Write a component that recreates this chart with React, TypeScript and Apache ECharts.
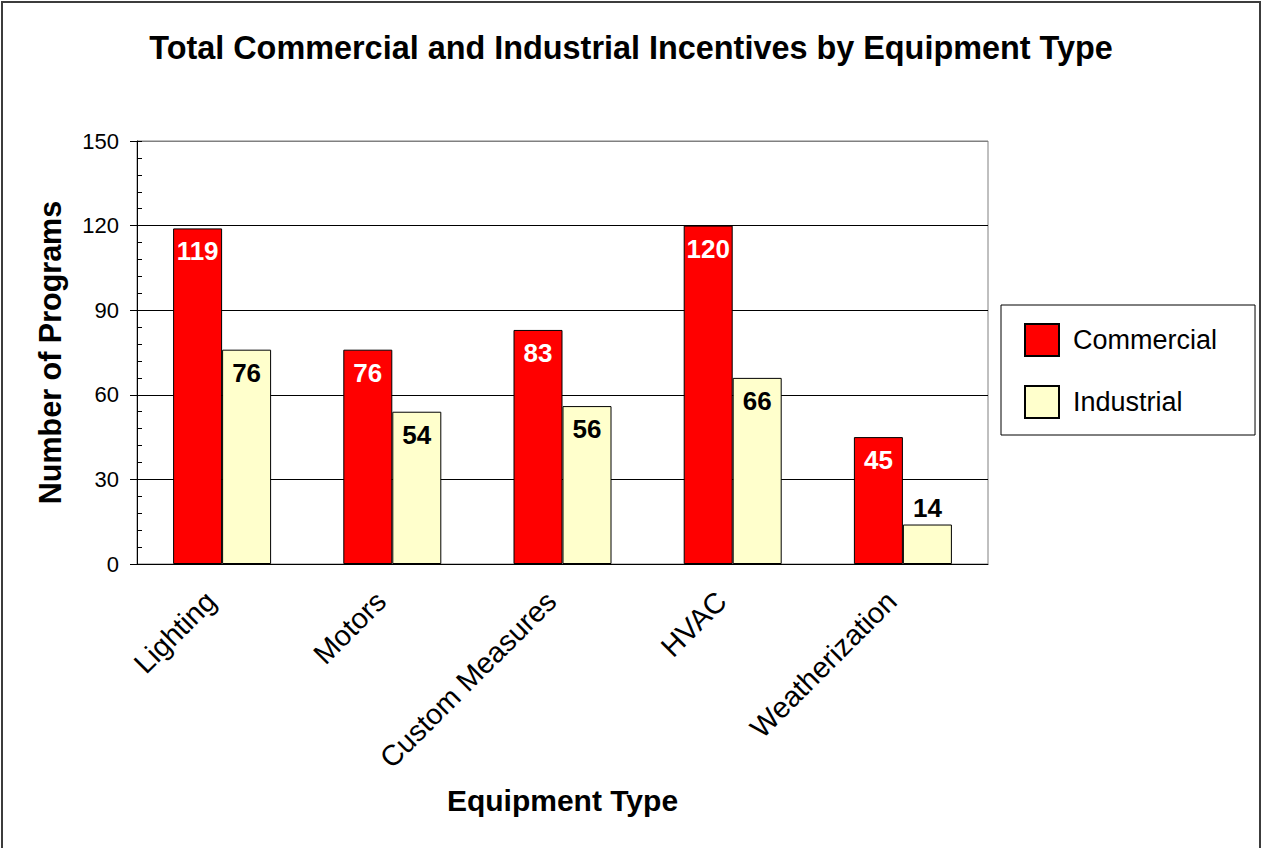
import React, { useEffect, useRef } from "react";
import * as echarts from "echarts";

const categories = ["Lighting", "Motors", "Custom Measures", "HVAC", "Weatherization"];
const commercial = [119, 76, 83, 120, 45];
const industrial = [76, 54, 56, 66, 14];
const seriesNames = ["Commercial", "Industrial"];
const yTicks = { min: 0, max: 150, interval: 30 };

const FONT = "'Liberation Sans', Arial, sans-serif";

export default function App() {
  const ref = useRef<HTMLDivElement>(null);
  useEffect(() => {
    const chart = echarts.init(ref.current!, null, { renderer: "svg" });
    const industrialData = industrial.map((v) =>
      v < 20
        ? { value: v, label: { position: "top", distance: 4, color: "#000" } }
        : v
    );
    chart.setOption({
      animation: false,
      backgroundColor: "#fff",
      textStyle: { fontFamily: FONT },
      title: {
        text: "Total Commercial and Industrial Incentives by Equipment Type",
        left: "center",
        top: 27,
        textStyle: { fontFamily: FONT, fontSize: 32.4, fontWeight: "bold", color: "#000" },
      },
      graphic: [
        {
          type: "rect",
          shape: { x: 2, y: 2, width: 1258, height: 900 },
          style: { fill: "none", stroke: "#3c3c3c", lineWidth: 2 },
          silent: true,
          z: 100,
        },
      ],
      legend: {
        orient: "vertical",
        left: 1001,
        top: 305,
        borderColor: "#000",
        borderWidth: 1,
        padding: [18, 38, 16, 23],
        itemWidth: 34,
        itemHeight: 32,
        itemGap: 28,
        icon: "rect",
        textStyle: { fontFamily: FONT, fontSize: 27, color: "#000", padding: [0, 0, 0, 9] },
        data: seriesNames,
      },
      grid: {
        left: 137,
        right: 274,
        top: 141,
        bottom: 284,
        show: true,
        borderColor: "#808080",
        borderWidth: 1,
        backgroundColor: "#fff",
      },
      xAxis: {
        type: "category",
        data: categories,
        name: "Equipment Type",
        nameLocation: "middle",
        nameGap: 221,
        nameTextStyle: { fontFamily: FONT, fontSize: 30, fontWeight: "bold", color: "#000" },
        axisLine: { show: true, lineStyle: { color: "#000", width: 1 } },
        axisTick: { show: false },
        axisLabel: {
          rotate: 45,
          margin: 21,
          padding: [0, 16, 0, 0],
          fontFamily: FONT,
          fontSize: 29,
          color: "#000",
          interval: 0,
        },
      },
      yAxis: [
        {
          type: "value",
          min: yTicks.min,
          max: yTicks.max,
          interval: yTicks.interval,
          name: "Number of Programs",
          nameLocation: "middle",
          nameGap: 72,
          nameTextStyle: { fontFamily: FONT, fontSize: 30.5, fontWeight: "bold", color: "#000" },
          axisLine: { show: true, lineStyle: { color: "#000", width: 1 } },
          axisTick: { show: true, length: 7, lineStyle: { color: "#000" } },
          axisLabel: { margin: 18, fontFamily: FONT, fontSize: 22, color: "#000" },
          splitLine: {
            show: true,
            lineStyle: { color: ["#000", "#000", "#000", "#000", "#000", "#808080"], width: 1 },
          },
        },
        {
          type: "value",
          position: "left",
          min: yTicks.min,
          max: yTicks.max,
          interval: 6,
          axisLine: { show: false },
          axisTick: { show: true, inside: true, length: 5, lineStyle: { color: "#000" } },
          axisLabel: { show: false },
          splitLine: { show: false },
        },
      ],
      series: [
        {
          name: seriesNames[0],
          type: "bar",
          data: commercial,
          barWidth: 49,
          barGap: "0%",
          itemStyle: { color: "#FF0000", borderColor: "#000", borderWidth: 1 },
          label: {
            show: true,
            position: "insideTop",
            distance: 10,
            color: "#fff",
            fontFamily: FONT,
            fontSize: 26,
            fontWeight: "bold",
          },
        },
        {
          name: seriesNames[1],
          type: "bar",
          data: industrialData,
          barWidth: 49,
          barGap: "0%",
          itemStyle: { color: "#FFFFCC", borderColor: "#000", borderWidth: 1 },
          label: {
            show: true,
            position: "insideTop",
            distance: 10,
            color: "#000",
            fontFamily: FONT,
            fontSize: 26,
            fontWeight: "bold",
          },
        },
      ],
    });
    return () => chart.dispose();
  }, []);
  return (
    <div
      ref={ref}
      style={{ position: "absolute", left: 0, top: 0, width: 1262, height: 848 }}
    />
  );
}
